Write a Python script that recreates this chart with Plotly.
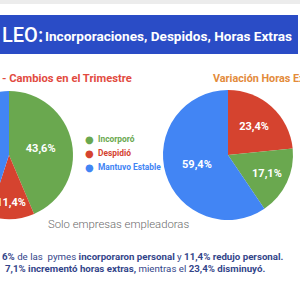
import plotly.graph_objects as go

# ---- data ----
left_labels = ["Incorporó", "Despidió", "Mantuvo Estable"]
left_values = [43.6, 11.4, 45.0]
right_labels = ["Disminuyó", "Incrementó", "Mantuvo"]
right_values = [23.4, 17.1, 59.4]

GREEN, RED, BLUE = "#6aa84f", "#d5432f", "#4285f4"
left_colors = [GREEN, RED, BLUE]
right_colors = [RED, GREEN, BLUE]

banner_lead = "LEO:"
banner_rest = "Incorporaciones, Despidos, Horas Extras"
left_title = "- Cambios en el Trimestre"
right_title = "Variación Horas Extras"
subtitle = "Solo empresas empleadoras"
line1 = ("<b>6%</b> de las  pymes <b>incorporaron personal</b> y "
         "<b>11,4% redujo personal.</b>")
line2 = "<b>7,1% incrementó horas extras,</b> mientras el <b>23,4% disminuyó.</b>"

def fmt(v):
    return f"{v:.1f}%".replace(".", ",")

# ---- geometry helpers (figure wider than viewport, shifted left) ----
OFF = 60
W, H = 420, 300
def px(x):
    return (x + OFF) / W
def py(y):
    return 1 - y / H
def dom(cx, cy, r):
    return dict(x=[px(cx - r), px(cx + r)], y=[py(cy + r), py(cy - r)])

FONT = "Roboto"

fig = go.Figure()
fig.add_trace(go.Pie(
    labels=left_labels, values=left_values, sort=False, direction="clockwise",
    rotation=0, text=[fmt(v) for v in left_values], textinfo="text",
    textposition="inside", insidetextorientation="horizontal",
    textfont=dict(family=FONT, size=11, color="white", weight="bold"),
    marker=dict(colors=left_colors, line=dict(width=0)),
    domain=dom(9, 155, 64), showlegend=False, hoverinfo="skip"))
fig.add_trace(go.Pie(
    labels=right_labels, values=right_values, sort=False, direction="clockwise",
    rotation=0, text=[fmt(v) for v in right_values], textinfo="text",
    textposition="inside", insidetextorientation="horizontal",
    textfont=dict(family=FONT, size=11, color="white", weight="bold"),
    marker=dict(colors=right_colors, line=dict(width=0)),
    domain=dom(228, 155, 65), showlegend=False, hoverinfo="skip"))

shapes = [
    dict(type="rect", xref="paper", yref="paper", x0=0, x1=1, y0=py(4), y1=py(0),
         fillcolor="#ececec", line=dict(width=0), layer="below"),
    dict(type="rect", xref="paper", yref="paper", x0=0, x1=px(298), y0=py(54), y1=py(15),
         fillcolor="#2a4cc6", line=dict(width=0), layer="below"),
]

ann = [
    dict(x=px(0), y=py(35), text=banner_lead, xanchor="left", yanchor="middle",
         showarrow=False, font=dict(family=FONT, size=20, color="white", weight=500)),
    dict(x=px(43), y=py(36), text=f"<b>{banner_rest}</b>", xanchor="left", yanchor="middle",
         showarrow=False, font=dict(family=FONT, size=13.6, color="white")),
    dict(x=px(0), y=py(79), text=f"<b>{left_title}</b>", xanchor="left", yanchor="middle",
         showarrow=False, font=dict(family=FONT, size=11.2, color="#e24b3f")),
    dict(x=px(211), y=py(79), text=f"<b>{right_title}</b>", xanchor="left", yanchor="middle",
         showarrow=False, font=dict(family=FONT, size=10.8, color="#e38b3b")),
    dict(x=px(118), y=py(224), text=subtitle, xanchor="center", yanchor="middle",
         showarrow=False, font=dict(family=FONT, size=11.3, color="#6a6a6a", weight=300)),
    dict(x=px(0), y=py(256), text=line1, xanchor="left", yanchor="middle", showarrow=False,
         font=dict(family=FONT, size=9.7, color="#33458a")),
    dict(x=px(3), y=py(268), text=line2, xanchor="left", yanchor="middle", showarrow=False,
         font=dict(family=FONT, size=9.7, color="#33458a")),
]

# legend built from the category list
for i, (lab, col) in enumerate(zip(left_labels, left_colors)):
    yy = 139 + 14 * i
    ann.append(dict(x=px(89), y=py(yy), text="●", xanchor="center", yanchor="middle",
                    showarrow=False, font=dict(family="DejaVu Sans", size=10, color=col)))
    ann.append(dict(x=px(96), y=py(yy), text=f"<b>{lab}</b>", xanchor="left", yanchor="middle",
                    showarrow=False, font=dict(family=FONT, size=8.4, color=col)))

fig.update_layout(width=W, height=H, margin=dict(l=0, r=0, t=0, b=0),
                  paper_bgcolor="white", plot_bgcolor="white",
                  shapes=shapes, annotations=ann, showlegend=False)

post = ("var d=document.getElementById('{plot_id}');d.style.marginLeft='-%dpx';"
        "document.body.style.margin='0';document.body.style.overflow='hidden';"
        "document.documentElement.style.overflow='hidden';" % OFF)
fig.write_html("out.html", config={"displayModeBar": False}, post_script=post)
